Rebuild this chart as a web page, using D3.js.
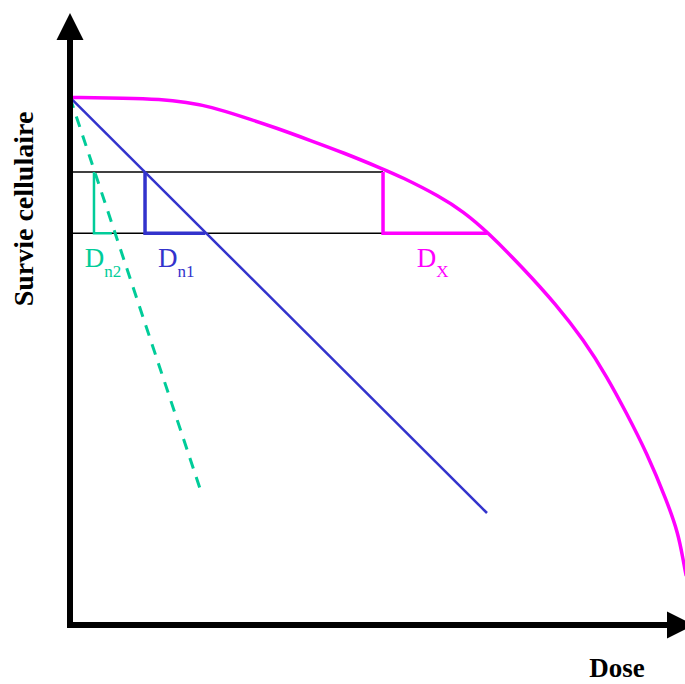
<!DOCTYPE html>
<html>
<head>
<meta charset="utf-8">
<script src="https://d3js.org/d3.v7.min.js"></script>
<style>
  body { margin: 0; background: #fff; }
  svg { display: block; }
  text { font-family: "Liberation Serif", "Times New Roman", serif; }
  .title { font-weight: bold; font-size: 28px; fill: #000; }
</style>
</head>
<body>
<div id="chart"></div>
<script>
// survival curve with shoulder (dose, survival) in chart units
var shoulderDose = [0, 9.2, 14.6, 19.0, 22.8, 28.2, 33.6, 39.0, 44.4, 50.9, 53.7, 60.2, 64.0, 67.8, 73.7, 79.1, 83.5, 87.3, 90.5, 93.8, 97.0, 98.9, 99.7, 100.2];
var shoulderSurv = [86.2, 86.1, 85.9, 85.4, 84.7, 83.0, 81.2, 79.2, 77.2, 74.5, 73.3, 70.0, 67.5, 64.3, 58.3, 52.3, 46.6, 40.6, 34.6, 28.1, 20.4, 15.0, 10.6, 8.0];

// straight lines from origin (dose, survival) start -> end
var lineN1 = [[0, 86.2], [67.8, 18.3]];
var lineN2 = [[0, 86.2], [21.5, 21.2]];

// two survival levels used to read the doses
var levels = [74, 64];

// dose intervals at those levels
var intervals = [
  {name: "n2", color: "#00cc99", from: 3.9, to: 6.8, width: 2.5},
  {name: "n1", color: "#3333cc", from: 12.2, to: 22.0, width: 3.5},
  {name: "X", color: "#ff00ff", from: 50.9, to: 67.8, width: 3.5}
];

// label anchor positions (dose, survival)
var labels = [
  {main: "D", sub: "n2", color: "#00cc99", dose: 2.4, surv: 58.5},
  {main: "D", sub: "n1", color: "#3333cc", dose: 14.3, surv: 58.5},
  {main: "D", sub: "X", color: "#ff00ff", dose: 56.4, surv: 58.5}
];

var width = 685, height = 684;

var svg = d3.select("#chart").append("svg")
  .attr("width", width)
  .attr("height", height);

var x = d3.scaleLinear().domain([0, 100]).range([70, 685]);
var y = d3.scaleLinear().domain([0, 100]).range([625, 13]);

var line = d3.line()
  .x(function(d) { return x(d[0]); })
  .y(function(d) { return y(d[1]); });

// horizontal reference lines
svg.selectAll(".level")
  .data(levels)
  .enter().append("line")
    .attr("class", "level")
    .attr("x1", x(0))
    .attr("x2", x(intervals[2].from))
    .attr("y1", function(d) { return y(d); })
    .attr("y2", function(d) { return y(d); })
    .attr("stroke", "#000")
    .attr("stroke-width", 1.5);

// interval brackets
intervals.forEach(function(d) {
  svg.append("path")
    .attr("d", line([[d.from, levels[0]], [d.from, levels[1]], [d.to, levels[1]]]))
    .attr("fill", "none")
    .attr("stroke", d.color)
    .attr("stroke-width", d.width);
});

// dashed n2 line
svg.append("path")
  .attr("d", line(lineN2))
  .attr("fill", "none")
  .attr("stroke", "#00cc99")
  .attr("stroke-width", 3)
  .attr("stroke-dasharray", "11,9");

// n1 line
svg.append("path")
  .attr("d", line(lineN1))
  .attr("fill", "none")
  .attr("stroke", "#3333cc")
  .attr("stroke-width", 2.5);

// shoulder curve
svg.append("path")
  .attr("d", d3.line()
    .x(function(d, i) { return x(d); })
    .y(function(d, i) { return y(shoulderSurv[i]); })
    .curve(d3.curveBasis)(shoulderDose))
  .attr("fill", "none")
  .attr("stroke", "#ff00ff")
  .attr("stroke-width", 3.5);

// labels
labels.forEach(function(d) {
  var t = svg.append("text")
    .attr("x", x(d.dose))
    .attr("y", y(d.surv))
    .attr("fill", d.color)
    .style("font-size", "27px");
  t.append("tspan").text(d.main);
  t.append("tspan")
    .attr("dy", 10)
    .style("font-size", "17px")
    .text(d.sub);
});

// axes
svg.append("line")
  .attr("x1", x(0)).attr("y1", y(0) + 3)
  .attr("x2", x(0)).attr("y2", 38)
  .attr("stroke", "#000").attr("stroke-width", 6);
svg.append("path")
  .attr("d", "M" + x(0) + ",13 L" + (x(0) - 13.5) + ",40 L" + (x(0) + 13.5) + ",40 Z")
  .attr("fill", "#000");

svg.append("line")
  .attr("x1", x(0) - 3).attr("y1", y(0))
  .attr("x2", 670).attr("y2", y(0))
  .attr("stroke", "#000").attr("stroke-width", 6);
svg.append("path")
  .attr("d", "M694," + y(0) + " L667," + (y(0) - 13.5) + " L667," + (y(0) + 13.5) + " Z")
  .attr("fill", "#000");

svg.append("text")
  .attr("class", "title")
  .attr("text-anchor", "middle")
  .attr("transform", "translate(33,209) rotate(-90)")
  .text("Survie cellulaire");

svg.append("text")
  .attr("class", "title")
  .attr("text-anchor", "middle")
  .style("font-size", "27px")
  .attr("x", 617)
  .attr("y", 677)
  .text("Dose");
</script>
</body>
</html>
